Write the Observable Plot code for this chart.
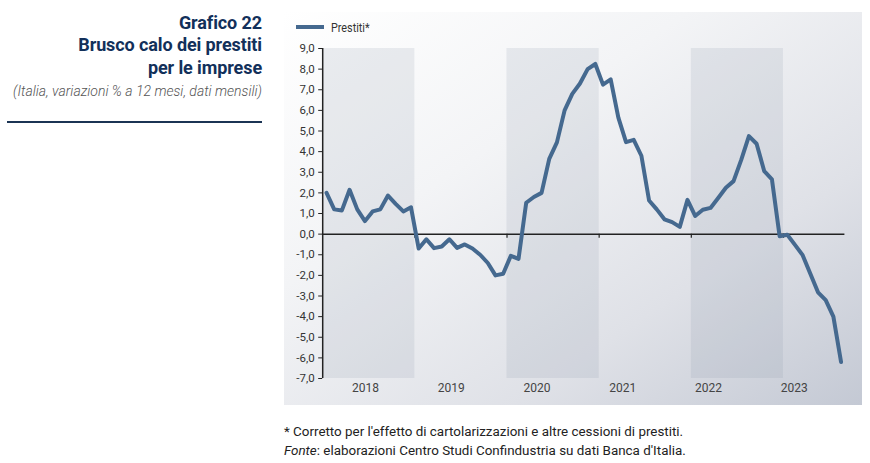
<!DOCTYPE html>
<html><head><meta charset="utf-8">
<script src="https://cdn.jsdelivr.net/npm/d3@7"></script>
<script src="https://cdn.jsdelivr.net/npm/@observablehq/plot@0.6"></script>
<style>
body{margin:0;background:#fff;font-family:Roboto,"Noto Sans",sans-serif;}
#wrap{position:relative;width:870px;height:463px;overflow:hidden;}
#title{position:absolute;right:608px;top:11.5px;text-align:right;color:#12305a;font-weight:700;font-size:18px;line-height:22.5px;white-space:nowrap;letter-spacing:-0.1px;}
#subtitle{position:absolute;right:608px;top:83px;text-align:right;color:#555;font-style:italic;font-weight:300;font-size:14px;line-height:16px;white-space:nowrap;}
#rule{position:absolute;left:7px;top:120.5px;width:255px;height:2.5px;background:#1b3454;}
#panel{position:absolute;left:284px;top:12px;width:578px;height:393px;background:linear-gradient(to bottom right,#ffffff 0%,#f3f4f6 35%,#dfe1e7 70%,#c4c9d4 100%);}
#legend{position:absolute;left:12px;top:8.6px;font-size:12px;line-height:14px;color:#333;white-space:nowrap;}
#legend .sw{display:inline-block;width:28px;height:4px;background:#45698f;vertical-align:middle;margin-right:7px;position:relative;top:-1px;}
#legend span.t{display:inline-block;transform:scaleX(0.9);transform-origin:left center;}
#chart{position:absolute;left:0;top:0;}
#caption{position:absolute;left:284px;top:421.5px;font-size:13.4px;line-height:19px;color:#222;white-space:nowrap;}
</style></head>
<body>
<div id="wrap">
  <div id="title">Grafico 22<br>Brusco calo dei prestiti<br>per le imprese</div>
  <div id="subtitle">(Italia, variazioni % a 12 mesi, dati mensili)</div>
  <div id="rule"></div>
  <div id="panel">
    <div id="chart"></div>
    <div id="legend"><span class="sw"></span><span class="t">Prestiti*</span></div>
  </div>
  <div id="caption">* Corretto per l'effetto di cartolarizzazioni e altre cessioni di prestiti.<br><i>Fonte</i>: elaborazioni Centro Studi Confindustria su dati Banca d'Italia.</div>
</div>
<script>
// Monthly values, Jan 2018 - Aug 2023 (% change over 12 months)
const startYear = 2018;
const values = [
  2.0, 1.2, 1.15, 2.15, 1.2, 0.63, 1.1, 1.2, 1.87, 1.47, 1.1, 1.3,
  -0.7, -0.25, -0.68, -0.6, -0.25, -0.67, -0.5, -0.7, -1.0, -1.4, -2.0, -1.92,
  -1.05, -1.2, 1.52, 1.8, 2.0, 3.65, 4.45, 6.0, 6.8, 7.3, 8.0, 8.25,
  7.25, 7.5, 5.65, 4.46, 4.57, 3.8, 1.63, 1.2, 0.72, 0.58, 0.35, 1.66,
  0.88, 1.18, 1.27, 1.75, 2.25, 2.57, 3.6, 4.75, 4.38, 3.05, 2.65, -0.1,
  -0.03, -0.52, -1.02, -1.92, -2.82, -3.2, -4.0, -6.2
];
const yearLabels = ["2018", "2019", "2020", "2021", "2022", "2023"];
const shadedYears = [2018, 2020, 2022];
const yTicks = [-7, -6, -5, -4, -3, -2, -1, 0, 1, 2, 3, 4, 5, 6, 7, 8, 9];

const n = values.length;
const series = values.map((v, i) => ({i, v}));
const bands = shadedYears.map(y => ({x1: (y - startYear) * 12 - 0.5, x2: (y - startYear) * 12 + 11.5}));
const boundaries = yearLabels.slice(1).map((y, k) => (k + 1) * 12 - 0.5);
const labels = yearLabels.map((y, k) => ({y, x: -0.5 + (k + 0.5) * (n - 1) / yearLabels.length}));

const chart = Plot.plot({
  width: 578, height: 393,
  marginLeft: 38.2, marginRight: 17.6, marginTop: 36, marginBottom: 27,
  x: {domain: [-0.5, n - 0.5], axis: null},
  y: {domain: [-7, 9], axis: null},
  style: {background: "transparent", fontFamily: "Roboto, sans-serif", fontSize: "11.5px", color: "#333", overflow: "visible"},
  marks: [
    Plot.rect(bands, {x1: "x1", x2: "x2", y1: -7, y2: 9, fill: "#8a93a8", fillOpacity: 0.16}),
    Plot.axisY({ticks: yTicks, label: null, tickSize: 4, tickPadding: 4, stroke: "#222", fill: "#333",
      tickFormat: d => d.toFixed(1).replace(".", ",")}),
    Plot.ruleX([-0.5], {y1: -7, y2: 9, stroke: "#222", strokeWidth: 1.5}),
    Plot.ruleY([0], {x1: -0.5, x2: n - 0.5, stroke: "#222", strokeWidth: 1.5}),
    Plot.ruleX(boundaries, {y1: 0, y2: -0.2, stroke: "#222", strokeWidth: 1.2}),
    Plot.line(series, {x: "i", y: "v", stroke: "#45698f", strokeWidth: 4, strokeLinejoin: "round", strokeLinecap: "round"}),
    Plot.text(labels, {x: "x", y: -7, dy: 10, text: "y", fontSize: 12, fill: "#444"})
  ]
});
document.getElementById("chart").appendChild(chart);
</script>
</body></html>
